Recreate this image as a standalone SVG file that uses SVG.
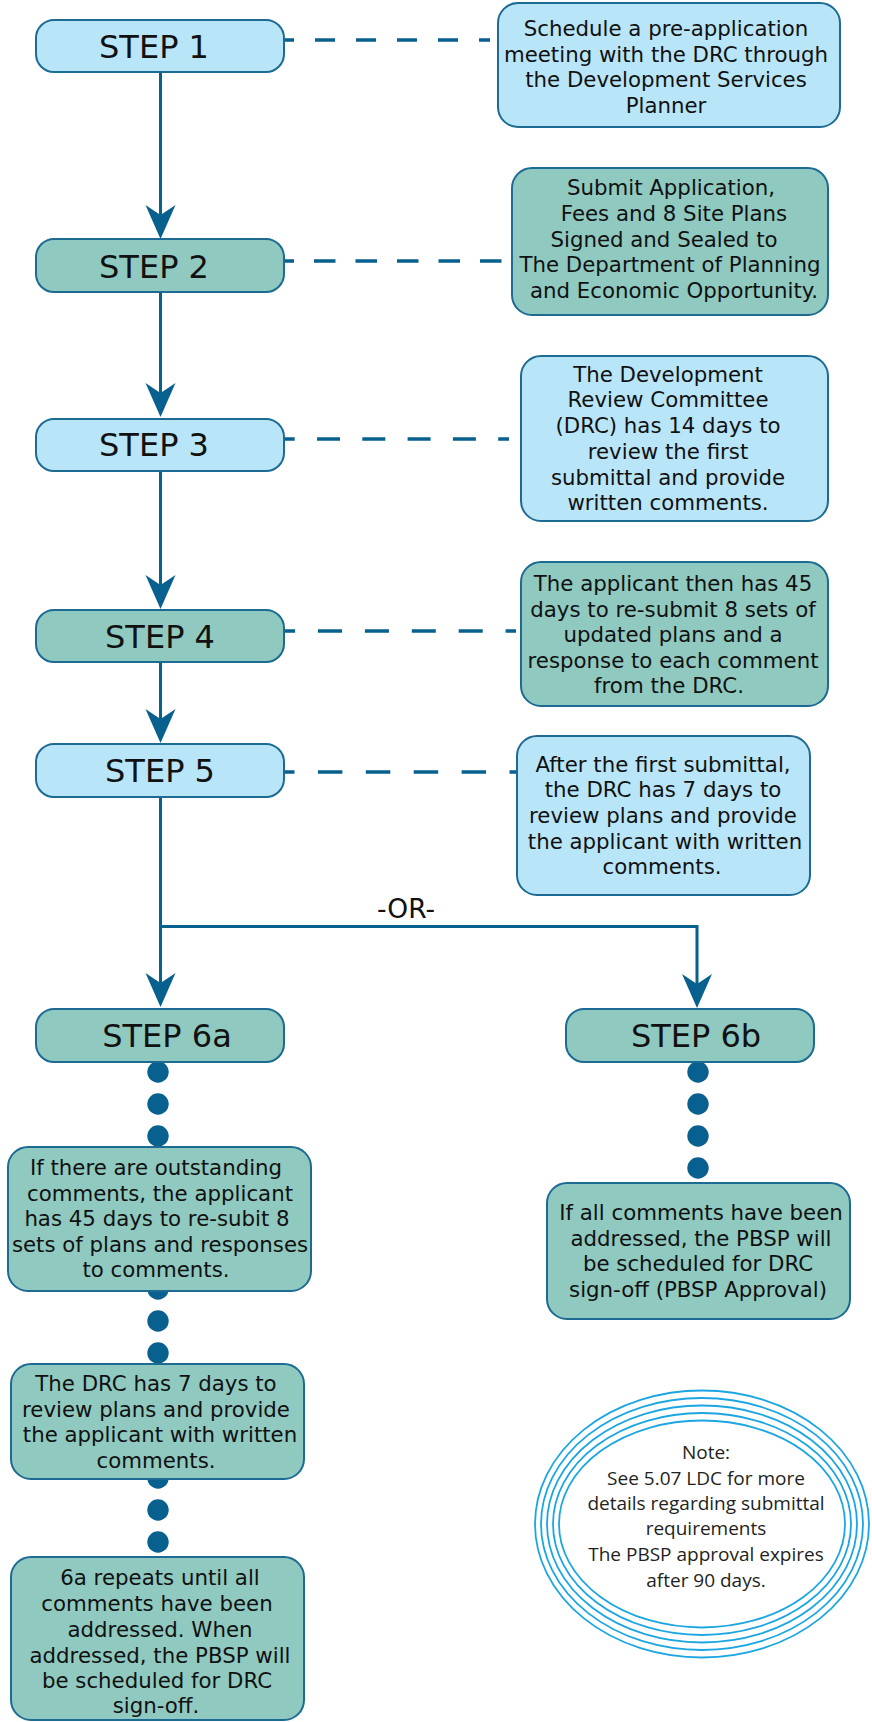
<svg xmlns="http://www.w3.org/2000/svg" width="872" height="1722" viewBox="0 0 872 1722">
<style>
.bl{fill:#b9e5f9;stroke:#1d6b93;stroke-width:2}
.tl{fill:#8fc9c0;stroke:#1d6b93;stroke-width:2}
.step{font-family:"DejaVu Sans",Verdana,sans-serif;font-size:32px;fill:#111;text-anchor:middle}
.t{font-family:"DejaVu Sans",Verdana,sans-serif;font-size:21.3px;fill:#111;text-anchor:middle}
.n{font-family:"Open Sans","Noto Sans",sans-serif;font-size:19px;fill:#231f20;text-anchor:middle}
.ln{fill:none;stroke:#08608e;stroke-width:3}
.ds{fill:none;stroke:#08608e;stroke-width:3.6}
.dot{fill:#08608e}
.el{fill:none;stroke:#1ba6e2;stroke-width:1.8}
</style>
<defs>
<marker id="arr" viewBox="-36 -16 38 32" refX="-6" refY="0" markerWidth="38" markerHeight="32" markerUnits="userSpaceOnUse" orient="auto">
<path d="M0,0 L-34,-15 L-24,0 L-34,15 Z" fill="#08608e"/>
</marker>
</defs>
<g id="connectors">
<path class="ln" d="M160.5,72 V233" marker-end="url(#arr)"/>
<path class="ln" d="M160.5,292 V411" marker-end="url(#arr)"/>
<path class="ln" d="M160.5,471 V603" marker-end="url(#arr)"/>
<path class="ln" d="M160.5,662 V737" marker-end="url(#arr)"/>
<path class="ln" d="M160.5,797 V1001" marker-end="url(#arr)"/>
<path class="ln" d="M160.5,926.5 H697 V1002" marker-end="url(#arr)"/>
<line class="ds" x1="284" y1="40" x2="490" y2="40" stroke-dasharray="20 21" stroke-dashoffset="10"/>
<line class="ds" x1="284" y1="261" x2="503" y2="261" stroke-dasharray="21.5 20" stroke-dashoffset="11.5"/>
<line class="ds" x1="284" y1="439" x2="509" y2="439" stroke-dasharray="23 22.3" stroke-dashoffset="12.3"/>
<line class="ds" x1="284" y1="631" x2="516" y2="631" stroke-dasharray="24 22.9" stroke-dashoffset="12.9"/>
<line class="ds" x1="284" y1="772" x2="517" y2="772" stroke-dasharray="24.5 23.4" stroke-dashoffset="14"/>
<g id="dots6a">
<circle class="dot" cx="158" cy="1072" r="10.7"/>
<circle class="dot" cx="158" cy="1104" r="10.7"/>
<circle class="dot" cx="158" cy="1136" r="10.7"/>
<circle class="dot" cx="158" cy="1289" r="10.7"/>
<circle class="dot" cx="158" cy="1321" r="10.7"/>
<circle class="dot" cx="158" cy="1353" r="10.7"/>
<circle class="dot" cx="158" cy="1478" r="10.7"/>
<circle class="dot" cx="158" cy="1510" r="10.7"/>
<circle class="dot" cx="158" cy="1542" r="10.7"/>
</g>
<g id="dots6b">
<circle class="dot" cx="698" cy="1072" r="10.7"/>
<circle class="dot" cx="698" cy="1104" r="10.7"/>
<circle class="dot" cx="698" cy="1136" r="10.7"/>
<circle class="dot" cx="698" cy="1168" r="10.7"/>
</g>
<text class="step" style="font-size:26.5px" x="406" y="918">-OR-</text>
</g>
<g id="step1"><rect class="bl" x="36" y="20" width="248" height="52" rx="18"/><text class="step" x="154" y="58">STEP 1</text></g>
<g id="step2"><rect class="tl" x="36" y="239" width="248" height="53" rx="18"/><text class="step" x="154" y="278">STEP 2</text></g>
<g id="step3"><rect class="bl" x="36" y="419" width="248" height="52" rx="18"/><text class="step" x="154" y="456">STEP 3</text></g>
<g id="step4"><rect class="tl" x="36" y="610" width="248" height="52" rx="18"/><text class="step" x="160" y="648">STEP 4</text></g>
<g id="step5"><rect class="bl" x="36" y="744" width="248" height="53" rx="18"/><text class="step" x="160" y="782">STEP 5</text></g>
<g id="step6a"><rect class="tl" x="36" y="1009" width="248" height="53" rx="18"/><text class="step" x="167" y="1047">STEP 6a</text></g>
<g id="step6b"><rect class="tl" x="566" y="1009" width="248" height="53" rx="18"/><text class="step" x="696" y="1047">STEP 6b</text></g>
<g id="box1"><rect class="bl" x="498" y="3" width="342" height="124" rx="20"/>
<text class="t" x="666" y="36">Schedule a pre-application</text>
<text class="t" x="666" y="62">meeting with the DRC through</text>
<text class="t" x="666" y="87">the Development Services</text>
<text class="t" x="666" y="113">Planner</text></g>
<g id="box2"><rect class="tl" x="512" y="168" width="316" height="147" rx="20"/>
<text class="t" x="671" y="195">Submit Application,</text>
<text class="t" x="674" y="221">Fees and 8 Site Plans</text>
<text class="t" x="664" y="247">Signed and Sealed to</text>
<text class="t" x="670" y="272">The Department of Planning</text>
<text class="t" x="674" y="298">and Economic Opportunity.</text></g>
<g id="box3"><rect class="bl" x="521" y="356" width="307" height="165" rx="20"/>
<text class="t" x="668" y="381.5">The Development</text>
<text class="t" x="668" y="407">Review Committee</text>
<text class="t" x="668" y="433">(DRC) has 14 days to</text>
<text class="t" x="668" y="458.5">review the first</text>
<text class="t" x="668" y="484.5">submittal and provide</text>
<text class="t" x="668" y="510">written comments.</text></g>
<g id="box4"><rect class="tl" x="521" y="562" width="307" height="144" rx="20"/>
<text class="t" x="673" y="590.5">The applicant then has 45</text>
<text class="t" x="673" y="616.5">days to re-submit 8 sets of</text>
<text class="t" x="673" y="642">updated plans and a</text>
<text class="t" x="673" y="668">response to each comment</text>
<text class="t" x="669" y="693">from the DRC.</text></g>
<g id="box5"><rect class="bl" x="517" y="736" width="293" height="159" rx="20"/>
<text class="t" x="663" y="771.5">After the first submittal,</text>
<text class="t" x="663" y="797">the DRC has 7 days to</text>
<text class="t" x="663" y="823">review plans and provide</text>
<text class="t" x="665" y="848.5">the applicant with written</text>
<text class="t" x="662" y="874">comments.</text></g>
<g id="box6a1"><rect class="tl" x="8" y="1147" width="303" height="144" rx="20"/>
<text class="t" x="156" y="1175">If there are outstanding</text>
<text class="t" x="160" y="1200.5">comments, the applicant</text>
<text class="t" x="157" y="1226">has 45 days to re-subit 8</text>
<text class="t" x="160" y="1252">sets of plans and responses</text>
<text class="t" x="156" y="1277">to comments.</text></g>
<g id="box6b1"><rect class="tl" x="547" y="1183" width="303" height="136" rx="20"/>
<text class="t" x="701" y="1220">If all comments have been</text>
<text class="t" x="701" y="1245.5">addressed, the PBSP will</text>
<text class="t" x="698" y="1271">be scheduled for DRC</text>
<text class="t" x="698" y="1297">sign-off (PBSP Approval)</text></g>
<g id="box6a2"><rect class="tl" x="11" y="1364" width="293" height="115" rx="20"/>
<text class="t" x="156" y="1391">The DRC has 7 days to</text>
<text class="t" x="156" y="1416.5">review plans and provide</text>
<text class="t" x="160" y="1442">the applicant with written</text>
<text class="t" x="156" y="1468">comments.</text></g>
<g id="box6a3"><rect class="tl" x="11" y="1557" width="293" height="163" rx="20"/>
<text class="t" x="160" y="1585">6a repeats until all</text>
<text class="t" x="157" y="1611">comments have been</text>
<text class="t" x="160" y="1637">addressed. When</text>
<text class="t" x="160" y="1662.5">addressed, the PBSP will</text>
<text class="t" x="157" y="1688">be scheduled for DRC</text>
<text class="t" x="156" y="1713">sign-off.</text></g>
<g id="note">
<ellipse class="el" cx="702" cy="1524" rx="167" ry="133.5"/>
<ellipse class="el" cx="702" cy="1524" rx="161" ry="126"/>
<ellipse class="el" cx="702" cy="1524" rx="155" ry="118.5"/>
<ellipse class="el" cx="702" cy="1524" rx="149" ry="111"/>
<ellipse class="el" cx="702" cy="1524" rx="143" ry="103.5"/>
<text class="n" x="706" y="1459">Note:</text>
<text class="n" x="706" y="1485">See 5.07 LDC for more</text>
<text class="n" x="706" y="1510">details regarding submittal</text>
<text class="n" x="706" y="1535">requirements</text>
<text class="n" x="706" y="1561">The PBSP approval expires</text>
<text class="n" x="706" y="1587">after 90 days.</text>
</g>
</svg>
